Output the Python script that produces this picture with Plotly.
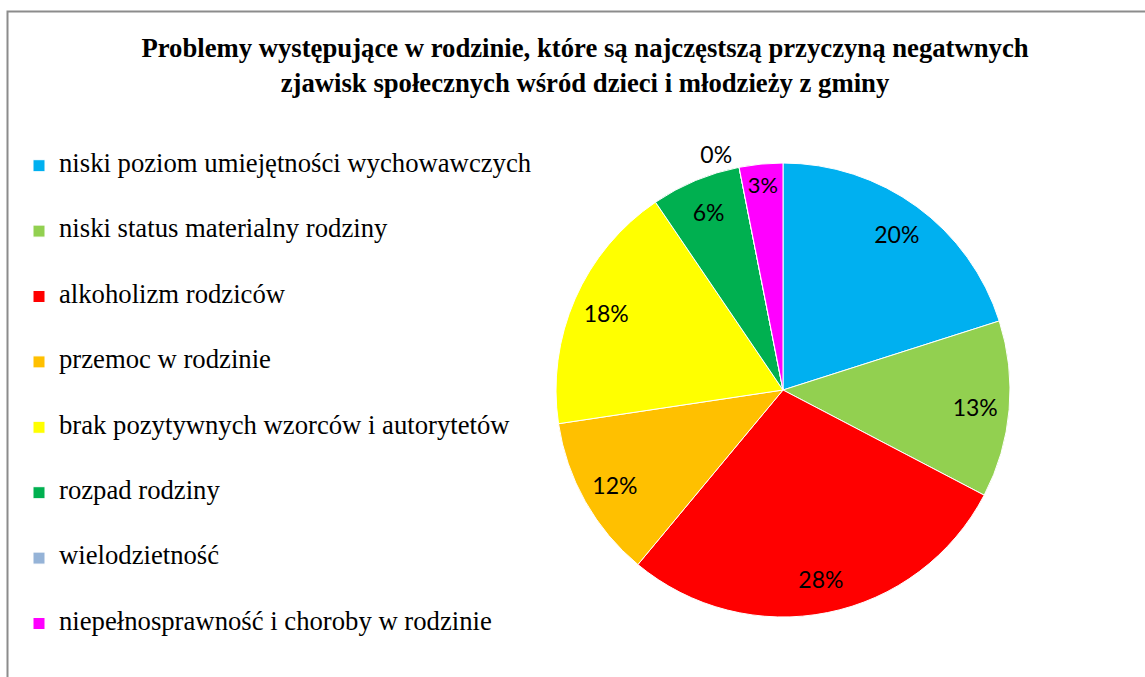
import plotly.graph_objects as go

# ---- data ----
categories = [
    "niski poziom umiejętności wychowawczych",
    "niski status materialny rodziny",
    "alkoholizm rodziców",
    "przemoc w rodzinie",
    "brak pozytywnych wzorców i autorytetów",
    "rozpad rodziny",
    "wielodzietność",
    "niepełnosprawność i choroby w rodzinie",
]
shares = [20.1, 12.6, 28.4, 11.6, 17.9, 6.4, 0.0, 3.1]
colors = ["#00B0F0", "#92D050", "#FF0000", "#FFC000", "#FFFF00", "#00B050", "#95B3D7", "#FF00FF"]
title_text = ("Problemy występujące w rodzinie, które są najczęstszą przyczyną negatwnych<br>"
              "zjawisk społecznych wśród dzieci i młodzieży z gminy")

W, H = 1145, 677

# legend entries: padded with blank lines to get the wide spacing of the original
legend_names = ["<br><span style='font-size:26.7px'>%s</span><br> " % c for c in categories]
text_pos = ["outside" if v == 0 else "inside" for v in shares]

cx, cy, r = 783, 390, 227
dom = dict(x=[(cx - r) / W, (cx + r) / W], y=[(H - cy - r) / H, (H - cy + r) / H])

# coloured slices + legend
fig = go.Figure(go.Pie(
    labels=legend_names,
    values=shares,
    sort=False,
    direction="clockwise",
    rotation=0,
    marker=dict(colors=colors, line=dict(color="white", width=1)),
    textinfo="none",
    domain=dom,
    hoverinfo="label+percent",
))
# percentage labels, placed in the outer ring like the original
fig.add_trace(go.Pie(
    labels=categories,
    values=shares,
    sort=False,
    direction="clockwise",
    rotation=0,
    hole=0.7,
    marker=dict(colors=["rgba(0,0,0,0)"] * len(shares), line=dict(width=0)),
    texttemplate="%{percent:.0%}",
    textposition=text_pos,
    insidetextorientation="horizontal",
    textfont=dict(family="Lato", size=23, color="black"),
    domain=dom,
    showlegend=False,
    hoverinfo="skip",
))

fig.update_layout(
    width=W, height=H,
    margin=dict(l=0, r=0, t=0, b=0),
    paper_bgcolor="white",
    title=dict(text=title_text, x=585 / W, xanchor="center", y=1 - 57 / H, yanchor="top",
               font=dict(family="Liberation Serif", size=26.7, color="black", weight="bold")),
    legend=dict(x=19 / W, xanchor="left", y=1 - 128 / H, yanchor="top",
                font=dict(family="Liberation Serif", size=16, color="black"),
                bgcolor="rgba(0,0,0,0)"),
    shapes=[dict(type="rect", xref="paper", yref="paper",
                 x0=7.5 / W, x1=1.05, y0=-0.05, y1=1 - 11.5 / H,
                 line=dict(color="#8C8C8C", width=2), fillcolor="rgba(0,0,0,0)", layer="below")],
)

fig.write_html("out.html", config={"displayModeBar": False},
               post_script="document.body.style.margin='0px';")
